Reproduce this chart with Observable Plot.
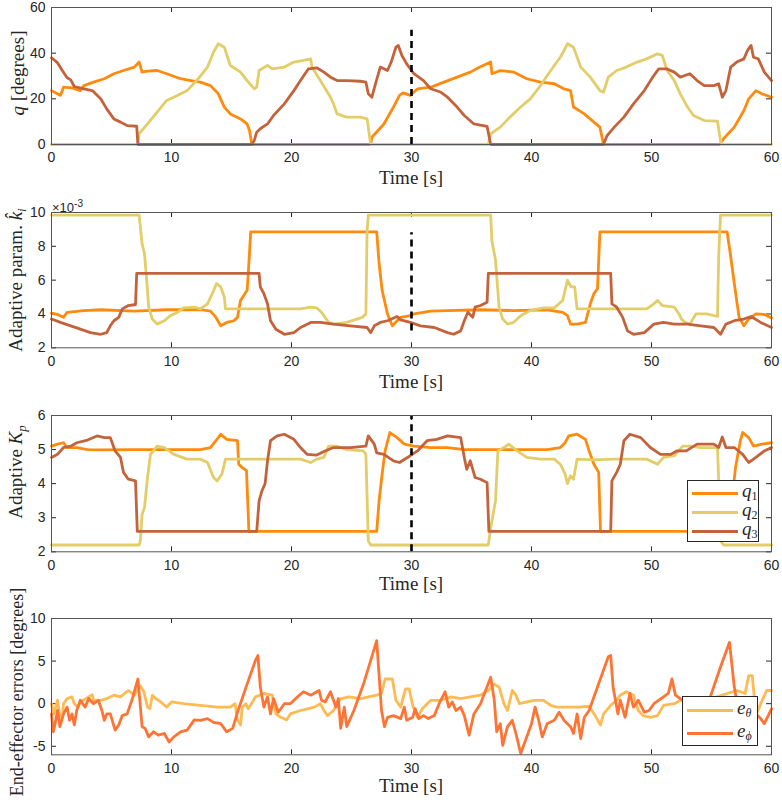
<!DOCTYPE html>
<html><head><meta charset="utf-8">
<script src="https://cdn.jsdelivr.net/npm/d3@7"></script>
<script src="https://cdn.jsdelivr.net/npm/@observablehq/plot@0.6"></script>
<style>
body{margin:0;background:#fff;}
#fig{position:relative;width:782px;height:803px;overflow:hidden;background:#fff;}
#fig svg{position:absolute;left:0;}
.lab{position:absolute;font-family:"Liberation Serif","DejaVu Serif",serif;color:#262626;white-space:nowrap;font-size:19px;line-height:1;}
.ylab{transform:translate(-50%,-50%) rotate(-90deg);}
.xlab{transform:translate(-50%,-50%);}
.exp{position:absolute;font-family:"Liberation Sans",Arial,sans-serif;font-size:13px;color:#262626;white-space:nowrap;line-height:1;}
.exp sup{font-size:10px;vertical-align:5px;}
.leg{position:absolute;background:#fff;border:1px solid #262626;box-sizing:border-box;}
.leg .ln{position:absolute;height:3px;}
.leg .tx{position:absolute;font-family:"Liberation Serif","DejaVu Serif",serif;font-size:19px;font-style:italic;color:#262626;transform:translateY(-55%);line-height:1;white-space:nowrap;}
.leg sub{font-size:12px;vertical-align:-3px;}
.leg sub.up{font-style:normal;}
</style></head>
<body><div id="fig"></div>
<script>
// ---------- data ----------
const seriesNames = ["q1","q2","q3"];
const jointColors = ["#FF8A0D","#E2CD68","#C4633B"];
const errNames = ["e_theta","e_phi"];
const errColors = ["#FFBA52","#FF7434"];
const xTicks = [0,10,20,30,40,50,60];
const switchTime = 30;

// panel 1: joint positions q [degrees]
const q1Pos = [[0,23.6],[0.75,21.5],[1,25.1],[1.7,24.8],[2.4,23.6],[2.7,25.8],[3.5,27.3],[4.4,28.8],[5.2,31],[6,32.4],[6.9,33.9],[7.3,36.1],[7.55,31.7],[8,32.1],[8.8,32.4],[9.6,31],[10.75,28.8],[11.6,28],[12.4,27.3],[13.25,25.8],[13.9,22.2],[14.4,16.4],[14.9,13.4],[15.75,11.2],[16.3,9],[16.5,6.1],[16.7,0],[26.6,0],[26.7,3.2],[27.7,9],[28.5,16.4],[29,21.5],[29.3,22.6],[29.9,21.5],[30.5,24.4],[31.6,25.1],[32.7,27.3],[33.8,29.5],[34.9,31.7],[35.7,33.9],[36.6,36.1],[36.7,31],[37.4,32.4],[38.5,31.7],[39.6,28.8],[40.75,27.3],[41.9,26.6],[42.7,24.4],[43.25,23.6],[43.5,16.4],[44.4,13.4],[45.2,9.8],[45.7,7.6],[46,0],[55.7,0],[56,2.5],[56.9,7.6],[57.7,14.9],[58.1,20],[58.7,23.6],[59.2,22.2],[60,20.7]];
const q2Pos = [[0,0],[7.2,0],[7.3,4.7],[8,9],[8.8,14.2],[9.6,19.3],[10.5,21.5],[11.3,23.6],[12.1,28],[13,33.9],[13.5,40.4],[13.9,44.1],[14.4,42.6],[14.9,34.6],[15.75,31.7],[16.3,28],[16.9,24.4],[17.1,25.1],[17.3,32.4],[18,34.6],[18.4,33.1],[19.4,33.9],[20.2,36.1],[21,36.8],[21.6,37.5],[21.7,33.9],[22.4,28],[23.25,20.7],[23.5,17.8],[23.8,13.4],[24.6,12],[25.75,12],[26.3,11.2],[26.6,0],[36.4,0],[36.6,4.7],[37.4,7.6],[38.2,12],[39.1,16.4],[39.9,20],[40.75,25.8],[41.6,32.4],[42.4,38.2],[43,44.1],[43.5,42.6],[44.1,33.9],[44.9,29.5],[45.7,23.6],[46,22.9],[46.4,29.5],[47.1,32.4],[47.9,33.9],[48.8,36.1],[49.6,37.5],[50.5,39.7],[50.9,39],[51.3,32.4],[51.9,28],[52.4,22.2],[53,16.4],[53.5,12.7],[54.4,10.5],[55.5,10.2],[55.75,1.8],[55.9,0],[60,0]];
const q3Pos = [[0,38],[0.47,36],[0.9,32.4],[1.3,29.2],[1.6,28.3],[1.9,25.4],[2.7,24.4],[3.4,23.6],[4.1,20],[4.6,15.6],[5.2,11.2],[5.75,9.8],[6.3,8.3],[7.1,8],[7.2,0],[16.7,0],[16.9,1.8],[17.1,5.4],[17.4,6.9],[18,9],[18.5,12.7],[19.4,17.8],[20.2,23.6],[20.75,28],[21.4,33.1],[22.1,33.6],[22.7,31.7],[23.25,29.5],[23.8,28],[24.6,28],[25.75,27.7],[26.2,27.3],[26.4,22.2],[26.7,20.7],[27,26.6],[27.4,33.9],[28,32.4],[28.3,36],[28.7,42.6],[28.9,43.4],[29.2,39],[29.6,35.3],[30.2,31],[31,28],[31.6,24.4],[32.4,23],[33,20.7],[33.8,16.4],[34.4,12.7],[35.2,9],[36.3,7.9],[36.6,0],[46,0],[46.3,3.9],[46.9,7.6],[47.7,12],[48.5,17.8],[49.4,23.6],[50.1,29.5],[50.6,33.1],[51.3,33.1],[51.9,31.7],[52.4,29.5],[53.2,31],[53.8,28],[54.4,25.8],[55.2,25.8],[55.6,26.6],[55.9,20.7],[56.2,23.6],[56.6,33.9],[57.1,36.1],[57.7,37.5],[58,41.2],[58.3,43.4],[58.5,38.2],[58.9,37.5],[59.4,31.7],[60,28]];

// panel 2: adaptive parameter k_i (x 1e-3)
const q1K = [[0,4.05],[0.5,3.97],[1,3.8],[1.3,4.1],[2.7,4.2],[4.1,4.25],[6.9,4.17],[9.6,4.25],[12.4,4.26],[13.25,4.17],[13.7,3.8],[14.1,3.3],[14.6,3.5],[15.2,3.6],[15.5,3.8],[15.75,4.8],[16.3,5.4],[16.4,6.4],[16.6,8.85],[27.1,8.85],[27.3,7],[27.55,5.4],[28,4],[28.4,3.3],[29.1,3.8],[29.9,3.9],[30.2,4],[31.6,4.17],[33,4.2],[35.75,4.25],[38.5,4.2],[41.3,4.25],[42.6,4.1],[43,3.9],[43.25,3.4],[43.8,3.4],[44.5,3.5],[44.9,4.6],[45.2,5.2],[45.5,5.5],[45.7,8.85],[56.3,8.85],[56.6,7.4],[56.9,5.8],[57.3,3.8],[57.7,3.3],[58.1,3.7],[58.7,4],[59.4,3.97],[60,3.77]];
const q2K = [[0,9.85],[7.3,9.85],[7.55,8.15],[7.75,7.56],[8,5.4],[8.1,4.4],[8.4,3.7],[8.8,3.4],[9.4,3.6],[9.9,3.9],[10.5,4.1],[11,4.36],[11.9,4.4],[12.4,4.3],[13,4.6],[13.4,5.2],[13.75,5.8],[14.1,5.6],[14.4,5],[14.5,4.3],[15.2,4.3],[16.9,4.3],[19.4,4.3],[20.75,4.3],[21.6,4.4],[22.1,4.36],[22.5,4.1],[23.1,3.5],[23.5,3.4],[24.6,3.5],[25.9,3.8],[26.2,4],[26.3,8.9],[26.4,9.85],[36.6,9.85],[36.7,8.3],[37,7.2],[37.3,4.4],[37.6,3.7],[38,3.4],[38.5,3.5],[39.1,3.9],[39.9,4.2],[41,4.36],[41.9,4.36],[42.6,4.8],[43,6],[43.3,5.6],[43.6,5.6],[43.8,4.3],[44.6,4.3],[46.9,4.3],[49.6,4.3],[50.2,4.6],[50.5,4.8],[50.9,4.5],[51.9,4.4],[52.3,4],[52.5,3.7],[52.8,3.5],[53.2,3.4],[53.7,4],[54.6,4],[55.5,3.85],[55.6,7.4],[55.75,9.85],[60,9.85]];
const q3K = [[0,3.7],[0.75,3.5],[1.6,3.3],[2.4,3.1],[3.25,2.9],[4.1,2.8],[4.6,2.9],[4.9,3.3],[5.2,3.6],[5.6,3.8],[5.9,4.3],[6.4,4.5],[7,4.56],[7.1,6.4],[17.3,6.4],[17.4,5.6],[17.7,5.2],[18,4.6],[18.25,3.6],[18.7,3.1],[19.4,2.8],[20.2,2.9],[20.75,3.2],[21.6,3.5],[22.4,3.5],[23.5,3.4],[24.9,3.3],[26.3,3.2],[26.6,2.9],[26.9,3.3],[27.4,3.5],[28,3.6],[28.8,3.85],[29.1,3.65],[29.9,3.5],[30.75,3.3],[31.9,3.2],[33,2.9],[33.5,2.8],[34.1,3],[34.4,3.6],[34.7,4.1],[35.1,3.8],[35.3,4.4],[35.75,4.5],[36.3,4.7],[36.4,6.4],[46.6,6.4],[46.7,4.6],[47.1,4.4],[47.6,3.8],[48,3],[48.5,2.8],[49.4,2.9],[50.2,3.4],[51,3.5],[51.9,3.4],[53,3.4],[54.1,3.3],[55.2,3.2],[55.75,2.8],[56.2,3.4],[56.9,3.6],[57.7,3.7],[58.3,3.85],[59.1,3.5],[60,3.2]];

// panel 3: adaptive Kp
const q1Kp = [[0,5.1],[0.5,5.16],[1,5.2],[1.3,5.06],[2.1,5.06],[3,5],[4.1,4.99],[6.9,5],[9.6,5],[12.4,5],[13.25,5.06],[13.7,5.26],[14.1,5.45],[14.6,5.3],[15.5,5.26],[15.6,4.57],[15.9,4.47],[16.25,4.38],[16.45,2.6],[27.1,2.6],[27.3,3.5],[27.55,4.28],[27.8,4.96],[28.2,5.5],[28.8,5.35],[29.4,5.16],[30.2,5.1],[31.6,5.06],[33,5.06],[34.4,5],[35.75,5],[38.5,5],[41.3,5],[42.4,5.06],[42.8,5.2],[43.1,5.4],[43.8,5.45],[44.5,5.3],[44.8,4.96],[45.2,4.57],[45.6,4.33],[45.75,2.6],[56.6,2.6],[56.7,3.5],[57,4.47],[57.4,5.26],[57.6,5.5],[58.1,5.35],[58.5,5.1],[59.2,5.16],[60,5.2]];
const q2Kp = [[0,2.2],[7.3,2.2],[7.4,2.32],[7.55,3.1],[7.75,3.3],[8,4.18],[8.25,4.86],[8.8,5.1],[9.4,5.06],[10.2,4.86],[11.3,4.72],[12.4,4.72],[13,4.62],[13.5,4.18],[13.8,4.08],[14.2,4.28],[14.5,4.72],[15.2,4.72],[18,4.72],[20.75,4.72],[21.6,4.62],[22.1,4.72],[22.7,4.77],[23.1,5.1],[23.8,5.1],[24.6,5],[26,4.96],[26.2,4.86],[26.4,2.32],[26.6,2.2],[36.4,2.2],[36.6,2.7],[36.9,3.3],[37,3.5],[37.2,4.96],[37.7,5.06],[38.1,5.16],[38.8,4.96],[39.6,4.77],[40.75,4.72],[41.9,4.72],[42.4,4.57],[42.8,4.28],[43,4],[43.25,4.23],[43.5,4.13],[43.8,4.72],[45.2,4.7],[46.9,4.72],[49.6,4.72],[50.5,4.57],[51,4.77],[51.9,4.82],[52.6,5.1],[53.3,5.1],[54.1,5.06],[55.5,5.06],[55.6,4.08],[55.75,2.32],[56,2.2],[60,2.2]];
const q3Kp = [[0,4.77],[0.5,4.86],[1,5.06],[1.6,5.1],[2.1,5.2],[3,5.28],[3.8,5.4],[4.4,5.35],[4.9,5.35],[5.3,4.96],[5.75,4.77],[6,4.33],[6.4,4.13],[7,4.08],[7.15,2.6],[17.1,2.6],[17.3,3.5],[17.55,3.8],[17.8,4],[18,4.67],[18.25,5.26],[18.8,5.4],[19.4,5.45],[20.2,5.3],[20.75,5.06],[21.3,4.86],[22.1,4.84],[22.8,4.96],[23.5,5.06],[24.9,5.06],[26.2,5.1],[26.4,5.4],[26.9,5.16],[27.1,4.9],[27.7,4.86],[28.5,4.67],[29,4.62],[29.9,4.82],[30.5,4.96],[31.3,5.26],[32.1,5.3],[33,5.4],[34.1,5.35],[34.4,4.77],[34.6,4.42],[34.9,4.67],[35.3,4.18],[35.75,4.13],[36.3,4.03],[36.45,2.6],[46.6,2.6],[46.7,4.08],[47.1,4.33],[47.4,4.57],[47.7,5.26],[48.2,5.45],[49.1,5.35],[49.9,5.06],[50.75,4.86],[51.6,4.86],[52.1,4.96],[52.9,4.96],[53.8,5.16],[55.2,5.16],[55.6,5.06],[55.9,5.37],[56.2,5.06],[56.9,5.06],[57.6,4.86],[58.1,4.62],[58.7,4.77],[59.4,4.96],[60,5.06]];

// panel 4: end-effector errors [degrees]
const eTheta = [[0,0],[0.2,-1.2],[0.5,0.4],[0.7,-1.6],[0.9,-1.6],[1,0],[1.3,0.6],[1.7,0.8],[1.9,0],[2.2,-0.4],[2.4,0.2],[3.1,0.8],[3.4,1.05],[3.5,0.4],[4.1,0.4],[4.6,0.6],[5.2,1],[5.75,0.8],[6.4,1.55],[6.9,1],[7.4,2.1],[7.7,1.4],[8,-0.4],[8.2,-0.6],[8.4,1],[8.7,0.6],[9.1,0.2],[9.6,-0.4],[10,0.2],[11,0],[12.4,-0.2],[13.8,-0.4],[14.9,-0.4],[15.3,0],[15.5,-1.95],[15.75,-2.5],[15.9,-0.4],[16.2,0],[16.4,-0.6],[17,0.8],[17.7,1.2],[18.4,1],[18.7,-1.2],[19.1,-1.6],[19.6,-1.9],[19.9,-1.2],[20.75,-0.8],[21.9,-0.4],[22.4,0],[22.7,-0.8],[23,-1.4],[23.5,-0.8],[24.1,0.6],[24.8,0.8],[25.75,0.6],[27.1,1],[27.5,1.2],[27.8,2.9],[28.4,2.9],[28.7,0.4],[29.1,-0.4],[29.5,1.75],[29.8,1.75],[30.1,-0.2],[30.5,-1.6],[30.9,-0.6],[31.6,0.4],[32.4,0.4],[33.3,0.8],[34.1,0.6],[34.9,0.8],[35.75,1],[36.4,1.55],[36.9,2.3],[37.3,1.95],[37.7,0],[38,-0.8],[38.4,1.55],[38.7,1],[39,0],[40.2,0.4],[41,0.4],[41.6,-0.2],[42.1,-0.4],[44,-0.4],[44.8,-0.3],[45.3,-1.4],[45.75,-2.5],[46,-1.2],[46.6,-0.2],[47.1,0.4],[47.4,1],[47.9,1.4],[48.5,1],[48.9,-0.8],[49.3,-1.4],[49.9,-1.6],[50.5,-1.4],[51,-0.2],[51.9,0],[52.4,0.4],[53.5,0.5],[55,0.6],[56.3,1.2],[57.1,1.55],[57.8,1.2],[58.1,3.3],[58.4,3.3],[58.7,-1.4],[59.1,0],[59.6,1.55],[60,1.55]];
const ePhi = [[0,-1.2],[0.15,-3.3],[0.3,-2.35],[0.5,-0.8],[0.7,-2.7],[1,-1.2],[1.3,-0.4],[1.5,-1.95],[1.7,-1.2],[1.9,-2.5],[2.1,-0.8],[2.4,0.4],[2.8,-0.4],[3.1,0.6],[3.5,0],[3.9,0.4],[4.2,-0.8],[4.4,-1.95],[4.6,-1.2],[4.9,-1.2],[5.3,-3.1],[5.6,-2.5],[5.9,-1.4],[6.3,-1.2],[6.7,0.4],[7.2,2.9],[7.55,-2.7],[7.8,-2.9],[8.1,-3.9],[8.5,-3.3],[8.9,-3.7],[9.4,-3.5],[9.8,-4.5],[10.2,-3.9],[10.75,-3.3],[11.3,-3.1],[11.9,-1.9],[12.4,-1.95],[13,-1.75],[13.5,-2.2],[14.1,-2.35],[14.6,-3.3],[15.1,-2.9],[15.5,-1],[16.3,2.3],[17,5.1],[17.2,5.65],[17.4,1.95],[17.7,-0.4],[18,0.8],[18.25,-1.2],[18.5,0.6],[18.9,-1],[19.4,0],[19.9,0],[20.5,0.8],[21,1.4],[21.6,1],[22.3,1.55],[22.5,0.4],[22.8,0.2],[23.25,1.4],[23.5,0.4],[23.7,-0.4],[23.9,0.6],[24.1,-2.9],[24.4,-0.4],[24.6,-2.7],[25.2,-0.8],[26,2.3],[27.1,7.4],[27.5,-0.8],[27.75,-2.7],[28,-1.6],[28.5,-1.4],[29.1,-1.75],[29.4,-0.4],[29.6,-1.95],[30.1,-1.6],[30.3,-0.6],[30.6,-1.75],[31,-1.4],[31.4,-1.75],[31.9,-1.4],[32.3,0],[32.8,1.4],[33.1,-0.4],[33.4,0.2],[33.7,-0.8],[34.1,-0.4],[34.4,-1.4],[34.8,-3.7],[35.2,-1.2],[35.75,0],[36.6,3.1],[36.9,0.4],[37.1,-3.3],[37.4,-2.35],[37.6,-4.9],[38,-2.7],[38.4,-1.95],[38.7,-3.5],[39.1,-5.85],[39.6,-3.9],[40,-2.35],[40.3,-0.4],[40.6,-1.95],[40.9,-3.9],[41.3,-2.35],[41.9,-1.95],[42.3,-1],[42.7,-1.95],[43.25,-2.7],[43.5,-3.5],[43.8,-1.2],[44.1,-4.1],[44.4,-1.6],[44.8,-0.8],[45.5,1.95],[46.4,5.5],[46.6,5.65],[46.8,1.95],[47.2,-1.2],[47.4,0.4],[47.8,-1.6],[48.2,1.2],[48.5,-0.4],[48.9,0.4],[49.4,-1],[49.8,-0.8],[50.2,0],[51,0.8],[51.4,1.2],[51.7,2.9],[52,1],[52.6,0.4],[53.2,-0.6],[53.8,-1],[54.4,-0.2],[54.9,0.8],[55.75,4.3],[56.5,7.2],[56.9,1.95],[57.3,-1.2],[57.8,-0.8],[58.3,-1.6],[58.7,-1.2],[59.1,-1.75],[59.4,-2.35],[59.8,-1.2],[60,-0.6]];

const yTicks1 = [0,20,40,60], yTicks2 = [2,4,6,8,10], yTicks3 = [2,3,4,5,6], yTicks4 = [-5,0,5,10];
const dash1 = [0,50], dash2 = [3,8.8], dash3 = [2,6];

// ---------- drawing ----------
const fig = document.getElementById("fig");
const W = 782, ML = 51, MR = 11, MT = 10, MB = 50, PW = W - ML - MR;
const axisColor = "#262626";

function panel({top, h, domain, yTicks, series, dash}) {
  const marks = [
    Plot.axisX(xTicks, {tickSize: 0, tickPadding: 8, label: null, fontSize: 14, tickFormat: d => String(d)}),
    Plot.axisY(yTicks, {tickSize: 0, tickPadding: 6, label: null, fontSize: 14, tickFormat: d => String(d)}),
    Plot.tickX(xTicks, {x: d => d, insetTop: h - 5, stroke: axisColor}),
    Plot.tickX(xTicks, {x: d => d, insetBottom: h - 5, stroke: axisColor}),
    Plot.tickY(yTicks, {y: d => d, insetRight: PW - 5, stroke: axisColor}),
    Plot.tickY(yTicks, {y: d => d, insetLeft: PW - 5, stroke: axisColor})
  ];
  for (const [data, color] of series) {
    marks.push(Plot.line(data, {x: d => d[0], y: d => d[1], stroke: color, strokeWidth: 2.8, strokeLinejoin: "round"}));
  }
  if (dash) marks.push(Plot.ruleX([switchTime], {x: d => d, y1: dash[0], y2: dash[1], stroke: "#000", strokeWidth: 2.6, strokeDasharray: "7,5"}));
  marks.push(Plot.frame({stroke: "#555", strokeWidth: 1}));
  const svg = Plot.plot({
    width: W, height: MT + h + MB,
    marginLeft: ML, marginRight: MR, marginTop: MT, marginBottom: MB,
    x: {domain: [0, 60]},
    y: {domain},
    style: {fontFamily: "'Liberation Sans', Arial, sans-serif", fontSize: "14px", color: axisColor, background: "transparent", overflow: "visible"},
    marks
  });
  svg.style.top = (top - MT) + "px";
  fig.appendChild(svg);
}

panel({top: 7, h: 137, domain: [0, 60], yTicks: yTicks1, dash: dash1,
  series: [[q1Pos, jointColors[0]], [q2Pos, jointColors[1]], [q3Pos, jointColors[2]]]});
panel({top: 212, h: 135.3, domain: [2, 10], yTicks: yTicks2, dash: dash2,
  series: [[q1K, jointColors[0]], [q2K, jointColors[1]], [q3K, jointColors[2]]]});
panel({top: 414.7, h: 136.3, domain: [2, 6], yTicks: yTicks3, dash: dash3,
  series: [[q1Kp, jointColors[0]], [q2Kp, jointColors[1]], [q3Kp, jointColors[2]]]});
panel({top: 618, h: 136.3, domain: [-6, 10], yTicks: yTicks4, dash: null,
  series: [[eTheta, errColors[0]], [ePhi, errColors[1]]]});

// ---------- labels ----------
function addLabel(html, cls, x, y, extra) {
  const d = document.createElement("div");
  d.className = cls;
  d.innerHTML = html;
  d.style.left = x + "px"; d.style.top = y + "px";
  if (extra) Object.assign(d.style, extra);
  fig.appendChild(d);
  return d;
}
for (const y of [177, 381, 583, 785]) addLabel("Time [s]", "lab xlab", 411, y);
addLabel("<i>q</i> [degrees]", "lab ylab", 17, 73);
addLabel("Adaptive param. <i>k&#770;</i><sub style='font-size:13px'><i>i</i></sub>", "lab ylab", 17, 280);
addLabel("Adaptive <i>K</i><sub style='font-size:13px'><i>p</i></sub>", "lab ylab", 17, 472);
addLabel("End-effector errors [degrees]", "lab ylab", 17, 692, {fontSize: "18px"});
addLabel("&times;10<sup>-3</sup>", "exp", 52, 199);

function legend(left, top, w, hgt, rows) {
  const box = addLabel("", "leg", left, top, {width: w + "px", height: hgt + "px"});
  for (const r of rows) {
    const ln = document.createElement("div");
    ln.className = "ln";
    Object.assign(ln.style, {left: "4px", width: "46px", top: (r.y - 1.5) + "px", background: r.color});
    box.appendChild(ln);
    const tx = document.createElement("div");
    tx.className = "tx";
    tx.innerHTML = r.label;
    Object.assign(tx.style, {left: "54px", top: r.y + "px"});
    box.appendChild(tx);
  }
}
legend(687, 480, 72, 62, [
  {y: 12, color: jointColors[0], label: "q<sub class='up'>1</sub>"},
  {y: 31, color: jointColors[1], label: "q<sub class='up'>2</sub>"},
  {y: 50, color: jointColors[2], label: "q<sub class='up'>3</sub>"}
]);
legend(682, 696, 76, 50, [
  {y: 13, color: errColors[0], label: "e<sub>&theta;</sub>"},
  {y: 36, color: errColors[1], label: "e<sub>&#981;</sub>"}
]);
</script></body></html>
